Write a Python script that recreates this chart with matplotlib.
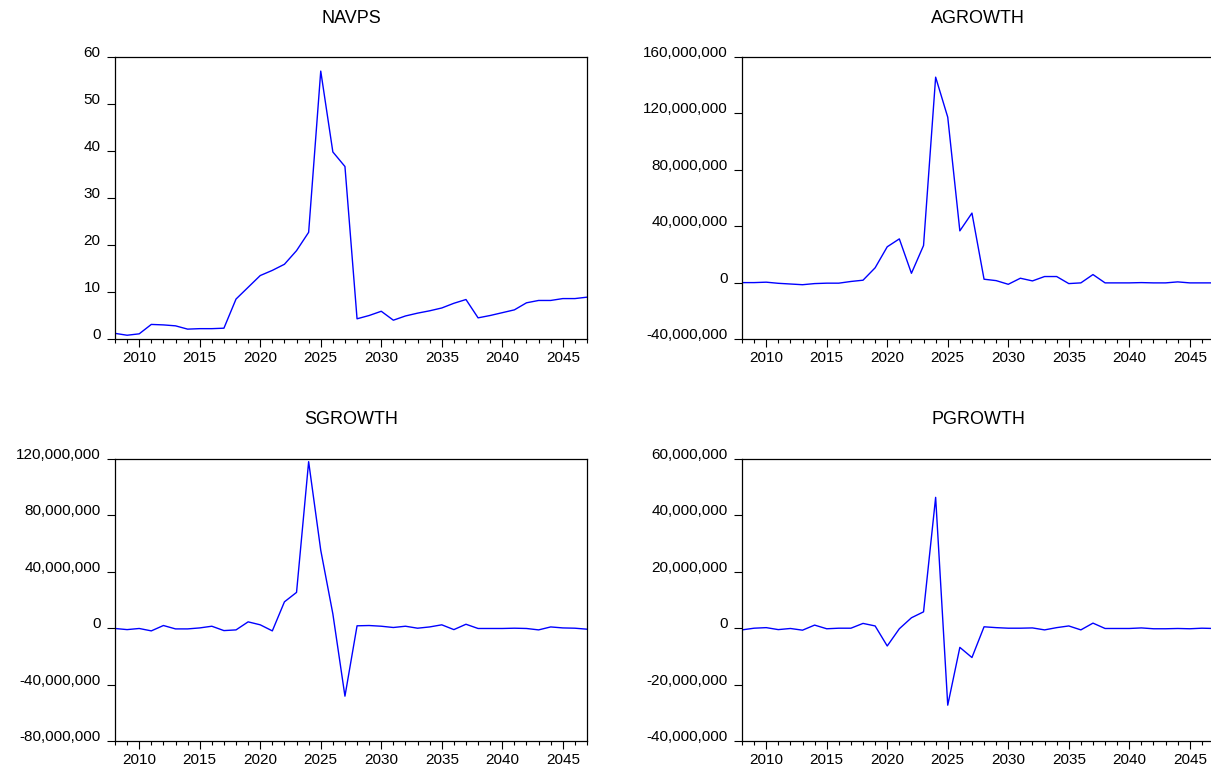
import matplotlib
matplotlib.use("Agg")
import matplotlib.pyplot as plt
import matplotlib.ticker as mticker

plt.rcParams['font.family'] = ['Liberation Sans', 'DejaVu Sans']

years = list(range(2008, 2048))

navps = [1.2, 0.8, 1.1, 3.1, 3.0, 2.8, 2.1, 2.2, 2.2, 2.3,
         8.5, 11.0, 13.5, 14.6, 15.9, 18.8, 22.7, 57.0, 39.8, 36.7,
         4.3, 5.0, 5.9, 4.0, 4.9, 5.5, 6.0, 6.6, 7.6, 8.4,
         4.5, 5.0, 5.6, 6.2, 7.7, 8.2, 8.2, 8.6, 8.6, 8.9]

# values in millions
agrowth_m = [0.0, 0.0, 0.3, -0.5, -1.0, -1.5, -0.7, -0.4, -0.4, 0.8,
             1.7, 10.5, 25.4, 31.0, 6.6, 26.3, 145.7, 117.3, 36.7, 49.3,
             2.4, 1.4, -1.2, 3.1, 1.2, 4.3, 4.3, -0.7, -0.2, 5.7,
             -0.2, -0.2, -0.2, 0.0, -0.2, -0.2, 0.5, -0.2, -0.2, -0.2]

sgrowth_m = [-0.2, -1.0, -0.2, -1.9, 1.9, -0.5, -0.5, 0.2, 1.4, -1.7,
             -1.2, 4.5, 2.4, -1.9, 18.7, 25.4, 118.1, 55.3, 10.2, -48.2,
             1.7, 1.9, 1.4, 0.5, 1.4, 0.0, 0.9, 2.4, -1.0, 2.8,
             -0.2, -0.2, -0.2, 0.0, -0.2, -1.2, 0.9, 0.2, 0.0, -0.7]

pgrowth_m = [-0.6, 0.0, 0.2, -0.5, -0.1, -0.7, 1.1, -0.2, 0.0, 0.0,
             1.7, 0.8, -6.3, -0.2, 3.7, 5.8, 46.4, -27.3, -6.8, -10.4,
             0.5, 0.2, 0.0, 0.0, 0.1, -0.6, 0.2, 0.8, -0.6, 1.8,
             -0.1, -0.1, -0.1, 0.1, -0.2, -0.2, -0.1, -0.2, 0.0, -0.1]

titles = ["NAVPS", "AGROWTH", "SGROWTH", "PGROWTH"]
series = [navps,
          [v * 1e6 for v in agrowth_m],
          [v * 1e6 for v in sgrowth_m],
          [v * 1e6 for v in pgrowth_m]]
ylims = [(0, 60), (-40e6, 160e6), (-80e6, 120e6), (-40e6, 60e6)]
ysteps = [10, 40e6, 40e6, 20e6]

W, H = 1211, 769
fig = plt.figure(figsize=(W / 100, H / 100), dpi=100)

boxes = [(115, 57, 587, 339), (742, 57, 1214, 339),
         (115, 459, 587, 741), (742, 459, 1214, 741)]
pads = [24.5, 24.5, 25.5, 25.5]

for title, ys, ylim, ystep, box, tpad in zip(titles, series, ylims, ysteps, boxes, pads):
    l, t, r, b = box
    ax = fig.add_axes([l / W, 1 - b / H, (r - l) / W, (b - t) / H])
    ax.plot(years, ys, color='#0000ff', lw=1.0)
    ax.set_xlim(2008, 2047)
    ax.set_ylim(*ylim)
    ax.xaxis.set_major_locator(mticker.FixedLocator(list(range(2010, 2047, 5))))
    ax.xaxis.set_minor_locator(mticker.FixedLocator(years))
    ax.yaxis.set_major_locator(mticker.MultipleLocator(ystep))
    ax.yaxis.set_major_formatter(mticker.FuncFormatter(lambda v, p: f"{v:,.0f}"))
    ax.tick_params(axis='both', which='major', direction='out', length=5.5,
                   width=0.8, labelsize=11, color='black')
    ax.tick_params(axis='y', which='major', pad=5)
    ax.tick_params(axis='x', which='major', pad=3)
    ax.tick_params(axis='x', which='minor', direction='out', length=3.2, width=0.8)
    ax.tick_params(axis='y', which='minor', left=False)
    for sp in ax.spines.values():
        sp.set_linewidth(0.9)
        sp.set_color('black')
    ax.set_title(title, fontsize=13, pad=tpad)
    for lab in ax.get_yticklabels():
        lab.set_verticalalignment('baseline')

fig.savefig("out.png", dpi=100)
